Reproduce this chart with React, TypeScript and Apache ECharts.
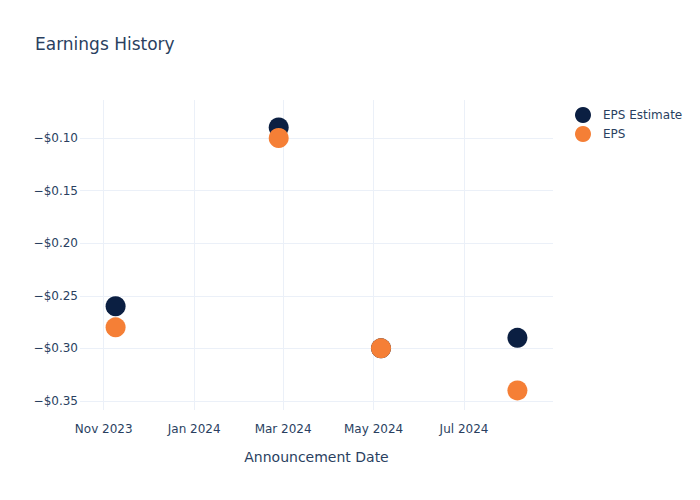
import React, { useEffect, useRef } from "react";
import * as echarts from "echarts";

const dates = ["2023-11-09", "2024-02-27", "2024-05-06", "2024-08-06"];
const epsEstimate = [-0.26, -0.09, -0.3, -0.29];
const eps = [-0.28, -0.1, -0.3, -0.34];
const xTickDates = ["2023-11-01", "2024-01-01", "2024-03-01", "2024-05-01", "2024-07-01"];
const xTickLabels = ["Nov 2023", "Jan 2024", "Mar 2024", "May 2024", "Jul 2024"];
const yTicks = [-0.35, -0.3, -0.25, -0.2, -0.15, -0.1];

const ts = (d: string) => new Date(d + "T00:00:00Z").getTime();

export default function App() {
  const ref = useRef<HTMLDivElement>(null);
  useEffect(() => {
    if (!ref.current) return;
    const chart = echarts.init(ref.current, undefined, { renderer: "svg" });
    const xTicks = xTickDates.map(ts);
    const font = "'DejaVu Sans', 'Open Sans', sans-serif";
    const color = "#2a3f5f";
    chart.setOption({
      animation: false,
      textStyle: { fontFamily: font },
      title: {
        text: "Earnings History",
        left: 30,
        top: 30,
        textStyle: { fontSize: 17, fontWeight: "normal", color, fontFamily: font },
      },
      legend: {
        orient: "vertical",
        left: 570,
        top: 102,
        itemWidth: 16,
        itemHeight: 16,
        itemGap: 3,
        icon: "circle",
        formatter: (name: string) => "{t|" + name + "}",
        textStyle: {
          fontSize: 12,
          color,
          fontFamily: font,
          rich: { t: { fontSize: 12, color, fontFamily: font, padding: [0, 0, 0, 7] } },
        },
        data: ["EPS Estimate", "EPS"],
      },
      grid: { left: 80, right: 147, top: 100, bottom: 90, containLabel: false },
      xAxis: {
        type: "value",
        min: ts("2023-10-16"),
        max: ts("2024-08-30"),
        name: "Announcement Date",
        nameLocation: "middle",
        nameGap: 40,
        nameTextStyle: { fontSize: 14, color, fontFamily: font },
        axisLine: { show: false },
        axisTick: { show: false, customValues: xTicks },
        axisLabel: {
          customValues: xTicks,
          fontSize: 12,
          color,
          margin: 13,
          formatter: (v: number) => {
            const i = xTicks.indexOf(v);
            return i >= 0 ? xTickLabels[i] : "";
          },
        },
        splitLine: { show: true, lineStyle: { color: "#ebf0f8", width: 1 } },
      },
      yAxis: {
        type: "value",
        min: -0.3586,
        max: -0.0639,
        axisLine: { show: false },
        axisTick: { show: false, customValues: yTicks },
        axisLabel: {
          customValues: yTicks,
          fontSize: 12,
          color,
          margin: 2,
          formatter: (v: number) => "\u2212$" + Math.abs(v).toFixed(2),
        },
        splitLine: { show: true, lineStyle: { color: "#ebf0f8", width: 1 } },
      },
      series: [
        {
          name: "EPS Estimate",
          type: "scatter",
          symbol: "circle",
          symbolSize: 20,
          itemStyle: { color: "#0b1f42", opacity: 1 },
          data: dates.map((d, i) => [ts(d), epsEstimate[i]]),
        },
        {
          name: "EPS",
          type: "scatter",
          symbol: "circle",
          symbolSize: 20,
          itemStyle: { color: "#f57f36", opacity: 1 },
          data: dates.map((d, i) => [ts(d), eps[i]]),
        },
      ],
    });
    return () => chart.dispose();
  }, []);
  return <div ref={ref} style={{ width: 700, height: 500, position: "absolute", left: 0, top: 0 }} />;
}
